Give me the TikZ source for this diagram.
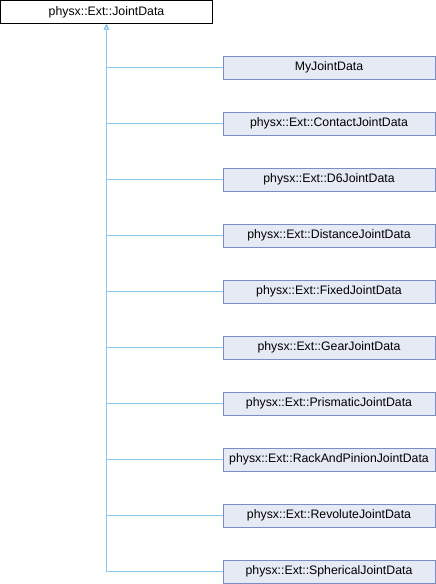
\documentclass[tikz,border=0pt]{standalone}
\usepackage{fontspec}
\setmainfont{Liberation Sans}
\usepackage{tikz}
\usetikzlibrary{arrows.meta, positioning}
\definecolor{dxedge}{HTML}{8DC8EA}
\definecolor{dxfill}{HTML}{E6EAF4}
\definecolor{dxdraw}{HTML}{7C8DC6}

\begin{document}
\begin{tikzpicture}[
    x=1pt, y=-1pt,
    base/.style={rectangle, draw=black, fill=white, line width=0.9pt, minimum width=212pt, minimum height=23pt, inner sep=0pt, font=\fontsize{12.3}{14}\selectfont},
    derived/.style={rectangle, draw=dxdraw, fill=dxfill, line width=0.9pt, minimum width=212pt, minimum height=23pt, inner sep=0pt, font=\fontsize{12.3}{14}\selectfont},
    inherit/.style={{Triangle[open, length=6pt, width=5pt]}-, draw=dxedge, line width=0.9pt}
]
\useasboundingbox (0,0) rectangle (436,584);

\node[base] (jd) at (106.5,12) {physx::Ext::JointData};

\node[derived] (my) at (329,67.5) {MyJointData};
\node[derived] (contact) at (329,123.5) {physx::Ext::ContactJointData};
\node[derived] (d6) at (329,179.5) {physx::Ext::D6JointData};
\node[derived] (distance) at (329,235.5) {physx::Ext::DistanceJointData};
\node[derived] (fixed) at (329,291.5) {physx::Ext::FixedJointData};
\node[derived] (gear) at (329,347.5) {physx::Ext::GearJointData};
\node[derived] (prismatic) at (329,403.5) {physx::Ext::PrismaticJointData};
\node[derived] (rack) at (329,459.5) {physx::Ext::RackAndPinionJointData};
\node[derived] (revolute) at (329,515.5) {physx::Ext::RevoluteJointData};
\node[derived] (spherical) at (329,571.5) {physx::Ext::SphericalJointData};

% inheritance edges
\draw[inherit] (jd.south) |- (my.west);
\draw[inherit] (jd.south) |- (contact.west);
\draw[inherit] (jd.south) |- (d6.west);
\draw[inherit] (jd.south) |- (distance.west);
\draw[inherit] (jd.south) |- (fixed.west);
\draw[inherit] (jd.south) |- (gear.west);
\draw[inherit] (jd.south) |- (prismatic.west);
\draw[inherit] (jd.south) |- (rack.west);
\draw[inherit] (jd.south) |- (revolute.west);
\draw[inherit] (jd.south) |- (spherical.west);
\end{tikzpicture}
\end{document}
